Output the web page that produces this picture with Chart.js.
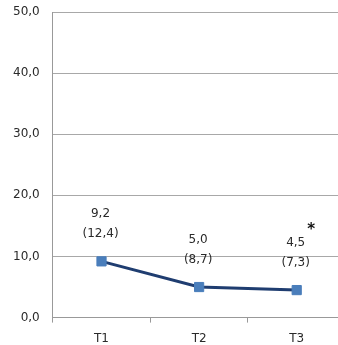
<!DOCTYPE html>
<html>
<head>
<meta charset="utf-8">
<script src="https://cdn.jsdelivr.net/npm/chart.js@4/dist/chart.umd.min.js"></script>
<style>
  html, body { margin: 0; padding: 0; background: #fff; overflow: hidden; }
  #wrap { width: 353px; height: 345px; }
</style>
</head>
<body>
<div id="wrap"><canvas id="chart-1"></canvas></div>
<script>
  // Données du graphique
  const categories = ['T1', 'T2', 'T3'];
  const moyennes = [9.2, 5.0, 4.5];
  const ecarts = [12.4, 8.7, 7.3];
  const yTicks = [0, 10, 20, 30, 40, 50];

  const fmt = v => v.toFixed(1).replace('.', ',');

  // Étiquettes au-dessus des points
  const labelsPlugin = {
    id: 'labelsPlugin',
    afterDatasetsDraw(chart) {
      const c = chart.ctx;
      const meta = chart.getDatasetMeta(0);
      c.save();
      c.font = '12px "DejaVu Sans"';
      c.fillStyle = '#2a2a2a';
      c.textAlign = 'center';
      c.textBaseline = 'middle';
      meta.data.forEach((pt, i) => {
        c.fillText(fmt(moyennes[i]), pt.x - 1, pt.y - 47);
        c.fillText('(' + fmt(ecarts[i]) + ')', pt.x - 1, pt.y - 27);
      });
      const last = meta.data[meta.data.length - 1];
      c.font = 'bold 15px "DejaVu Sans"';
      c.fillStyle = '#111';
      c.fillText('*', last.x + 14.5, last.y - 60);
      c.restore();
    }
  };

  const ctx = document.getElementById('chart-1');
  new Chart(ctx, {
    type: 'line',
    data: {
      labels: categories,
      datasets: [{
        data: moyennes,
        borderColor: '#1F3D70',
        borderWidth: 3,
        pointStyle: 'rect',
        pointRadius: 6.5,
        pointBackgroundColor: '#4A7EBB',
        pointBorderColor: '#4A7EBB',
        pointBorderWidth: 1,
        tension: 0
      }]
    },
    options: {
      responsive: true,
      maintainAspectRatio: false,
      animation: false,
      layout: { padding: { top: 12, right: 0, left: 0, bottom: -10 } },
      plugins: { legend: { display: false }, tooltip: { enabled: false } },
      scales: {
        x: {
          offset: true,
          grid: { offset: true, drawOnChartArea: false, color: '#999', tickLength: 5 },
          border: { color: '#999', width: 1 },
          ticks: { color: '#2a2a2a', font: { family: 'DejaVu Sans', size: 12 }, padding: 9 },
          afterFit: a => { a.paddingLeft = 0; a.paddingRight = 0; }
        },
        y: {
          min: 0,
          max: 50,
          afterBuildTicks: axis => { axis.ticks = yTicks.map(v => ({ value: v })); },
          afterFit: a => { a.paddingTop = 0; a.paddingBottom = 0; },
          grid: { color: '#a8a8a8', drawTicks: false },
          border: { color: '#999', width: 1 },
          ticks: {
            color: '#2a2a2a',
            font: { family: 'DejaVu Sans', size: 12 },
            padding: 13,
            callback: v => fmt(v)
          }
        }
      }
    },
    plugins: [labelsPlugin]
  });
</script>
</body>
</html>
